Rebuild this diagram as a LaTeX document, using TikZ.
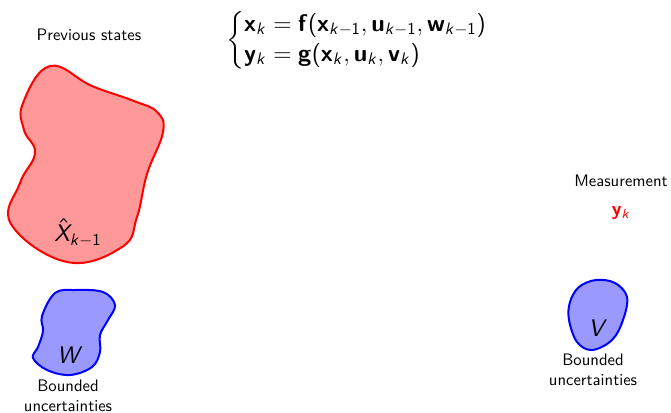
\documentclass[tikz,border=0pt]{standalone}
\usepackage{amsmath}
\usepackage{tikz}
\usepackage{xcolor}
\renewcommand{\familydefault}{\sfdefault}
\SetSymbolFont{operators}{normal}{OT1}{cmss}{m}{n}
\DeclareMathAlphabet{\mathbsf}{OT1}{cmss}{bx}{n}
\DeclareMathAlphabet{\mathisf}{OT1}{cmss}{m}{sl}
\newcommand{\vb}[1]{\mathbsf{#1}}
\newcommand{\kk}{\mathisf{k}}

\begin{document}
\begin{tikzpicture}[
  x=0.6pt, y=-0.6pt,
  font=\sffamily,
  lbl/.style={align=center, inner sep=1pt},
  setname/.style={font=\Large\sffamily, inner sep=0pt},
  prevset/.style={draw=red, fill=red!40, line width=1.2pt},
  noiseset/.style={draw=blue, fill=blue!40, line width=1.2pt}
]
  \useasboundingbox (0,0) rectangle (671,412);

  \draw[prevset] plot[smooth cycle, tension=0.7] coordinates {
    (50,66) (92,86) (134,101) (157,112) (163,132) (147,174) (137,217)
    (122,247) (67,262) (11,224) (20,183) (35,153) (24,130) (23,103)};
  \draw[noiseset] plot[smooth cycle, tension=0.6] coordinates {
    (55,293) (75,290) (103,292) (115,305) (108,320) (100,335) (100,352)
    (92,367) (70,375) (47,370) (33,358) (38,347) (43,331) (42,316)};
  \draw[noiseset] plot[smooth cycle, tension=0.6] coordinates {
    (596,280) (615,283) (627,297) (623,320) (612,340) (592,350) (577,342)
    (569,320) (570,302) (579,287)};

  \node[lbl] (prev) at (89,35) {Previous states};
  \node[font=\Large\sffamily, inner sep=0pt] (model) at (357,40)
    {$\left\{\begin{array}{@{}l@{}}
      \vb{x}_\kk=\vb{f}(\vb{x}_{\kk-1},\vb{u}_{\kk-1},\vb{w}_{\kk-1})\\
      \vb{y}_\kk=\vb{g}(\vb{x}_\kk,\vb{u}_\kk,\vb{v}_\kk)
    \end{array}\right.$};
  \node[lbl] (meas) at (621,181) {Measurement};
  \node[text=red, font=\large\sffamily, inner sep=0pt] (yk) at (621,213) {$\vb{y}_\kk$};
  \node[setname] (xhat) at (78,233) {$\hat{\mathisf{X}}_{\kk-1}$};
  \node[setname] (wset) at (70,355) {$\mathisf{W}$};
  \node[lbl] (wtext) at (68,396) {Bounded\\uncertainties};
  \node[lbl] (vtext) at (593,370) {Bounded\\uncertainties};
  \node[setname] (vset) at (598,328) {$\mathisf{V}$};
\end{tikzpicture}
\end{document}
